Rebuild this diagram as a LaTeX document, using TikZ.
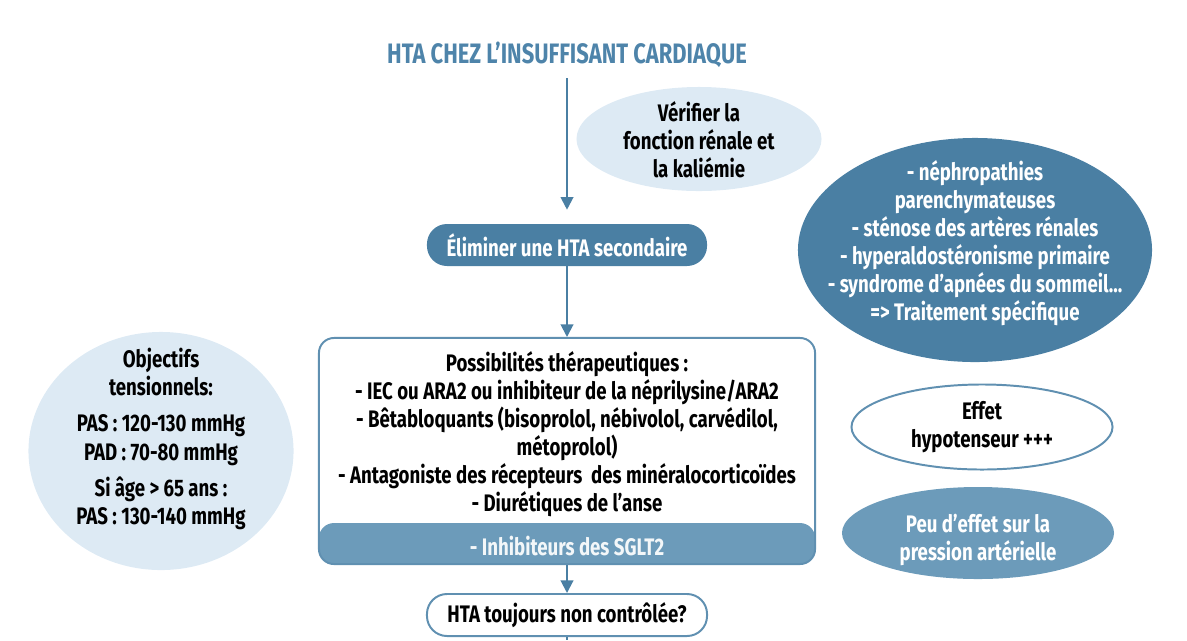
\documentclass[tikz,border=0pt]{standalone}
\usepackage{fontspec}
\setmainfont{Fira Sans}[FakeStretch=0.78]
\usetikzlibrary{shapes.geometric,arrows.meta}
\definecolor{cdark}{RGB}{74,127,163}
\definecolor{cmid}{RGB}{108,155,186}
\definecolor{clight}{RGB}{221,234,244}
\definecolor{cline}{RGB}{96,144,177}
\definecolor{ctitle}{RGB}{78,132,170}

\begin{document}
\begin{tikzpicture}[x=0.025cm, y=-0.025cm,
  txt/.style={font=\bfseries\fontsize{17}{20}\selectfont, align=center, inner sep=0pt},
  oval/.style={ellipse, inner sep=0pt},
  pill/.style={rounded corners=0.5cm, minimum width=7cm, minimum height=1.05cm, inner sep=0pt},
  flow/.style={draw=cdark, line width=1.4pt, -{Triangle[length=9pt,width=9pt]}}]
  \useasboundingbox (0,0) rectangle (1187,640);

  \node[txt, text=ctitle, font=\bfseries\fontsize{20}{24}\selectfont] (titre) at (567,55) {HTA CHEZ L’INSUFFISANT CARDIAQUE};

  \node[oval, fill=clight, minimum width=6.125cm, minimum height=2.6cm] (verif) at (699,139) {};
  \node[txt] (veriftxt) at (699,140) {Vérifier la\\fonction rénale et\\la kaliémie};

  \node[pill, fill=cdark, text=white, font=\bfseries\fontsize{17}{20}\selectfont] (elim) at (567,245) {Éliminer une HTA secondaire};

  \node[oval, fill=cdark, minimum width=8.85cm, minimum height=5.6cm] (causes) at (975,250) {};
  \node[txt, text=white] (causestxt) at (975,243) {- néphropathies\\parenchymateuses\\- sténose des artères rénales\\- hyperaldostéronisme primaire\\- syndrome d’apnées du sommeil...\\=> Traitement spécifique};

  \node[oval, fill=clight, minimum width=6.625cm, minimum height=5.95cm] (obj) at (161,451) {};
  \node[txt] (objtxt) at (161,439) {Objectifs\\tensionnels:\\[6pt]PAS : 120-130 mmHg\\PAD : 70-80 mmHg\\[6pt]Si âge > 65 ans :\\PAS : 130-140 mmHg};

  \node[draw=cline, line width=1.4pt, rounded corners=0.375cm, minimum width=12.4cm, minimum height=5.65cm,
    path picture={\fill[cmid] ([yshift=1.025cm]path picture bounding box.south west) rectangle (path picture bounding box.south east);}] (main) at (567,451) {};
  \node[txt] (thertxt) at (567,434) {Possibilités thérapeutiques :\\- IEC ou ARA2 ou inhibiteur de la néprilysine/ARA2\\- Bêtabloquants (bisoprolol, nébivolol, carvédilol,\\métoprolol)\\- Antagoniste des récepteurs\ \ des minéralocorticoïdes\\- Diurétiques de l’anse};
  \node[txt, text=white!92!cmid] (sglt) at (567,546) {- Inhibiteurs des SGLT2};

  \node[oval, draw=cline, line width=1.4pt, minimum width=6.525cm, minimum height=2.125cm] (effet) at (982,427) {};
  \node[txt] (effettxt) at (982,427) {Effet\\hypotenseur +++};

  \node[oval, fill=cmid, minimum width=6.8cm, minimum height=2.3cm] (peu) at (978,533) {};
  \node[txt, text=white] (peutxt) at (978,540) {Peu d’effet sur la\\pression artérielle};

  \node[pill, draw=cline, line width=1.4pt, fill=white, font=\bfseries\fontsize{17}{20}\selectfont] (encore) at (567,615) {HTA toujours non contrôlée?};
  \coordinate (bas) at (567,640);

  \draw[flow, shorten <=0.25cm, shorten >=0.35cm] (titre) -- (elim);
  \draw[flow] (elim) -- (main);
  \draw[flow] (main) -- (encore);
  \draw[cdark, line width=1.4pt] (encore) -- (bas);
\end{tikzpicture}
\end{document}
